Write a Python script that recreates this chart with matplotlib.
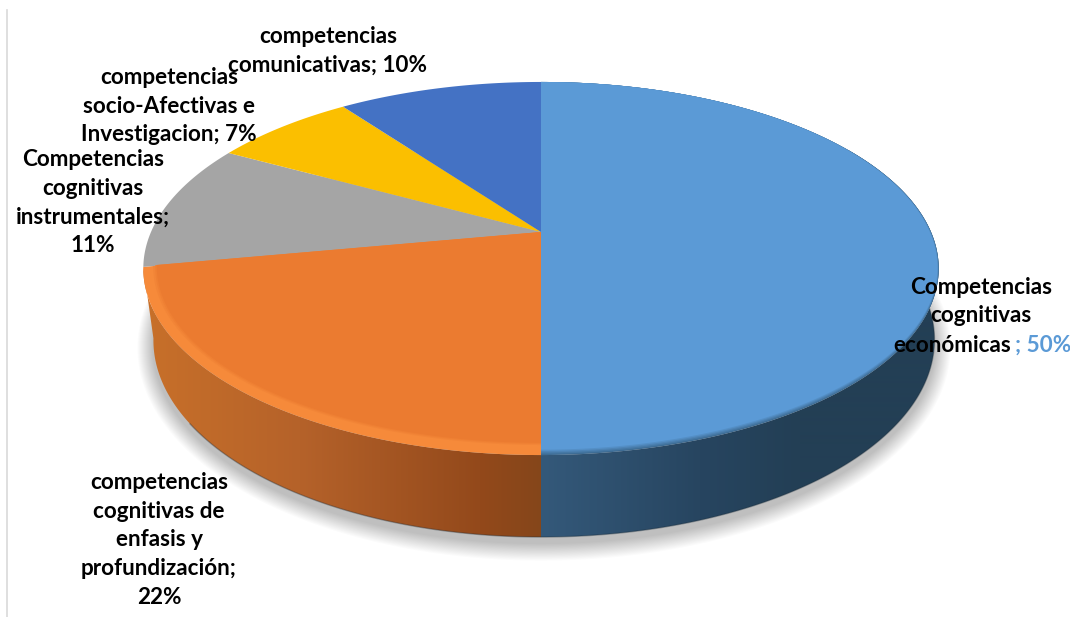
"""Torta 3D de competencias: proyeccion en perspectiva dibujada con poligonos."""
import matplotlib
matplotlib.use("Agg")
import matplotlib.pyplot as plt
import numpy as np
from matplotlib.colors import to_rgb
from matplotlib.patches import Polygon

# datos, en el orden horario desde las 12
etiquetas = [
    "Competencias\ncognitivas\neconómicas",
    "competencias\ncognitivas de\nenfasis y\nprofundización;",
    "Competencias\ncognitivas\ninstrumentales;",
    "competencias\nsocio-Afectivas e\nInvestigacion;",
    "competencias\ncomunicativas;",
]
valores = [50, 22, 11, 7, 10]
colores = ["#5B9AD6", "#EB7B30", "#A5A5A5", "#FBBF00", "#4472C4"]

# geometria en pixeles de la imagen
CX, CY = 541, 232
A, B, K = 390.0, 179.4, 0.1957
BASE = dict(escala=0.982, escala_y=1.056, dy=69.5, dx=3.0)

plt.rcParams["font.family"] = ["Lato", "DejaVu Sans"]
plt.rcParams["font.weight"] = "bold"
FS = 16.2


def proyectar(theta, sx=1.0, sy_frente=1.0, escala=1.0, escala_y=1.0, dy=0.0, dx=0.0):
    """Circulo unitario -> imagen; theta en grados, horario desde arriba."""
    t = np.radians(theta)
    u, v = np.sin(t), np.cos(t)
    w = 1 + K * v
    x = A * u / w * sx * escala + dx * np.abs(u)
    y = B * v / w
    y = np.where(y < 0, y * sy_frente, y) * escala_y
    return CX + x, CY - y + dy


def cara(t0, t1, **kw):
    th = np.linspace(t0, t1, 200)
    x, y = proyectar(th, **kw)
    return np.column_stack([np.r_[CX, x], np.r_[CY, y]])


def pared(ax, t0, t1, xs, cols):
    """Pared lateral con degradado horizontal recortado al contorno."""
    th = np.linspace(t0, t1, 200)
    xt, yt = proyectar(th)
    xb, yb = proyectar(th[::-1], **BASE)
    poly = Polygon(np.column_stack([np.r_[xt, xb], np.r_[yt, yb]]),
                   closed=True, transform=ax.transData, fc="none", ec="none")
    ax.add_patch(poly)
    rejilla = np.arange(100, 1000)
    rgb = np.array([to_rgb(c) for c in cols])
    img = np.stack([np.interp(rejilla, xs, rgb[:, i]) for i in range(3)], axis=-1)
    im = ax.imshow(img[None, :, :], extent=(100, 1000, 600, 0), aspect="auto",
                   zorder=2, interpolation="bilinear")
    im.set_clip_path(poly)


fig = plt.figure(figsize=(10.7, 6.17), dpi=100)
ax = fig.add_axes([0, 0, 1, 1])

# sombra difusa bajo la torta
th_all = np.linspace(0, 360, 400)
for d in np.arange(1, 17):
    x, y = proyectar(th_all, **{**BASE, "dy": BASE["dy"] + 6})
    xc, yc = x.mean(), y.mean()
    ax.fill(xc + (x - xc) * (1 + d / 390), yc + (y - yc) * (1 + d / 197),
            color="black", alpha=0.016, lw=0, zorder=1)

lim = np.r_[0, np.cumsum(valores)] / sum(valores) * 360

# paredes visibles: naranja y azul
pared(ax, lim[1], lim[2], [143, 300, 480, 541], ["#C87029", "#B5622A", "#93491B", "#85461A"])
pared(ax, 60, lim[1], [541, 700, 800, 940], ["#34597A", "#274560", "#233F55", "#233F55"])
xb, yb = proyectar(np.linspace(60, 235, 300), **BASE)
ax.plot(xb, yb, color="#1A2A35", lw=1, alpha=0.35, zorder=3)

# bordes de la cara superior
bordes = {0: "#3E6C94", 1: "#F68A3A"}
for i, (color, t0, t1) in enumerate(zip(colores, lim[:-1], lim[1:])):
    if i in bordes:
        ax.add_patch(Polygon(cara(t0, t1), fc=bordes[i], ec="none", zorder=4))
        base, filo = np.array(to_rgb(color)), np.array(to_rgb(bordes[i]))
        if i == 0:
            pasos = [(1.0, 0.994), (0.999, 0.988), (0.998, 0.982), (0.997, 0.976)]
        else:
            pasos = [(0.975, 0.955), (0.97, 0.95), (0.966, 0.945)]
        for j, (sx, sy) in enumerate(pasos):
            f = (j + 1) / len(pasos)
            ax.add_patch(Polygon(cara(t0, t1, sx=sx, sy_frente=sy),
                                 fc=filo + (base - filo) * f, ec="none", zorder=4 + j * 0.1))
    else:
        ax.add_patch(Polygon(cara(t0, t1), fc=color, ec="none", zorder=4))

# linea gris del marco de la captura
ax.plot([6.5, 6.5], [10, 617], color="#D9D9D9", lw=1.2, zorder=1)

# rotulos
pos = {1: (159, 482), 2: (93, 159), 3: (169, 77), 4: (328, 36)}
for i, (x, y) in pos.items():
    sep = "\n" if i in (1, 2) else " "
    ax.text(x, y - 10, f"{etiquetas[i]}{sep}{valores[i]}%", ha="center", va="top",
            fontsize=FS, linespacing=1.45, color="black", zorder=6)

lineas = etiquetas[0].split("\n")
ax.text(981, 287, lineas[0], ha="center", va="center", fontsize=FS, zorder=6)
ax.text(981, 316, lineas[1], ha="center", va="center", fontsize=FS, zorder=6)
ax.text(893, 345, lineas[2], ha="left", va="center", fontsize=FS, zorder=6)
ax.text(1015, 345, f"; {valores[0]}%", ha="left", va="center", fontsize=FS,
        color=colores[0], zorder=6)

ax.set_xlim(0, 1070)
ax.set_ylim(617, 0)
ax.axis("off")
fig.savefig("out.png", dpi=100, facecolor="white")
